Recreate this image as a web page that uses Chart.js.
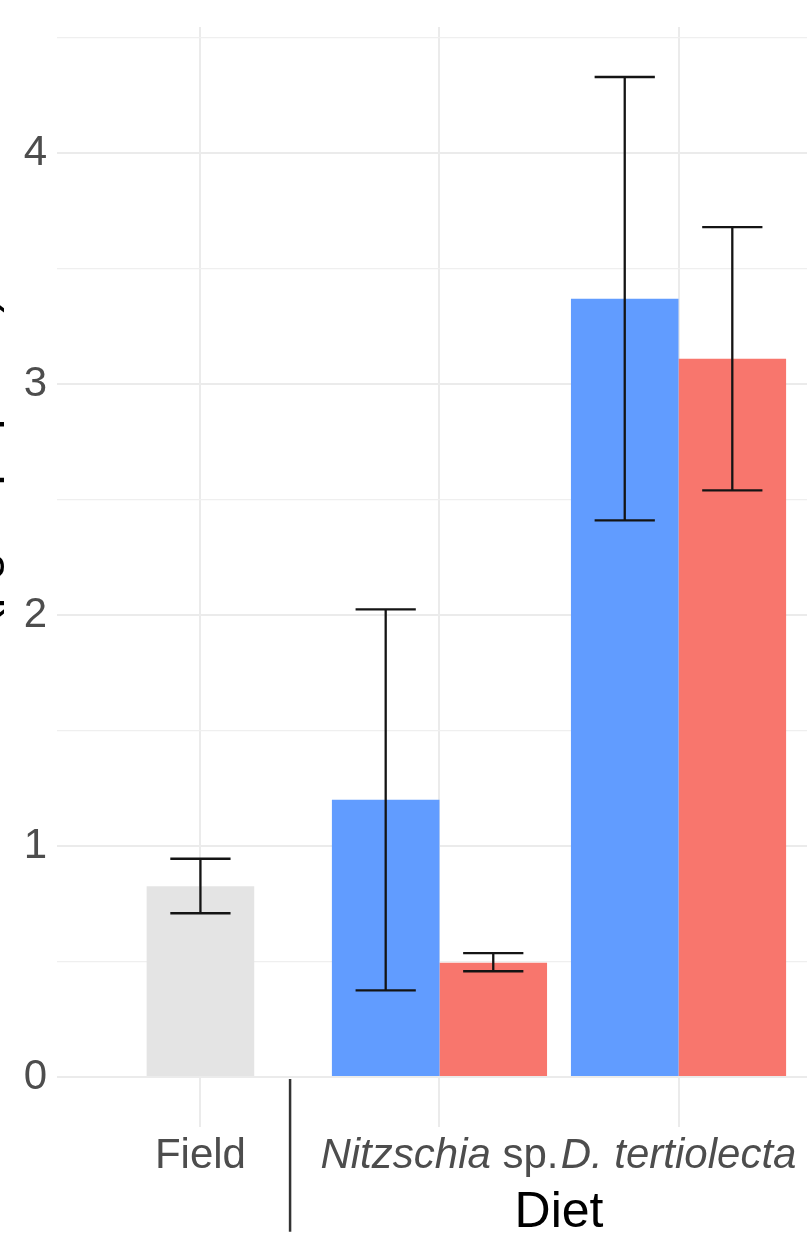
<!DOCTYPE html>
<html>
<head>
<meta charset="utf-8">
<script src="https://cdn.jsdelivr.net/npm/chart.js@4/dist/chart.umd.min.js"></script>
<style>
  html, body { margin: 0; padding: 0; overflow: hidden; background: #ffffff; width: 807px; height: 1238px; }
  #wrap { position: absolute; left: -50px; top: 0; }
</style>
</head>
<body>
<div id="wrap"><canvas id="c" width="1111" height="1238"></canvas></div>
<script>
// Diet categories and the words set in italics (taxon names)
const categories = ['Field', 'Nitzschia sp.', 'D. tertiolecta'];
const italicTerms = ['Nitzschia', 'D. tertiolecta'];

// Field-caught animals (single bar)
const fieldMean = [0.826, null, null];
const fieldLow  = [0.709, null, null];
const fieldHigh = [0.945, null, null];

// Blue series
const blueMean = [null, 1.20, 3.37];
const blueLow  = [null, 0.375, 2.41];
const blueHigh = [null, 2.025, 4.33];

// Red series
const redMean = [null, 0.495, 3.11];
const redLow  = [null, 0.458, 2.54];
const redHigh = [null, 0.536, 3.68];

// Y gridline values (labels only on whole numbers)
const yTicks = [0, 0.5, 1, 1.5, 2, 2.5, 3, 3.5, 4, 4.5];

const yTitle = 'Total TAG (µg copepod⁻¹)';
const xTitle = 'Diet';

// Divider between field and cultured diets, in category-index units
const dividerAt = 0.375;
const dividerDepth = -0.67;

// ---------------------------------------------------------------
const FONT = "'Liberation Sans', Arial, Helvetica, sans-serif";
Chart.defaults.font.family = FONT;

const allHigh = [...fieldHigh, ...blueHigh, ...redHigh].filter(v => v != null);
const yPad = 0.05 * Math.max(...allHigh);
const yMin = -yPad;
const yMax = Math.max(...allHigh) + yPad;

const capRatio = 0.56;

const errorBars = {
  id: 'errorBars',
  afterDatasetsDraw(chart) {
    const { ctx } = chart;
    const y = chart.scales.y;
    chart.data.datasets.forEach((ds, di) => {
      const meta = chart.getDatasetMeta(di);
      meta.data.forEach((bar, i) => {
        const lo = ds.errLow[i], hi = ds.errHigh[i];
        if (lo == null || hi == null || ds.data[i] == null) return;
        const x = bar.x;
        const half = bar.width * capRatio / 2;
        const yl = y.getPixelForValue(lo);
        const yh = y.getPixelForValue(hi);
        ctx.save();
        ctx.strokeStyle = '#141414';
        ctx.lineWidth = 2.3;
        ctx.beginPath();
        ctx.moveTo(x, yl); ctx.lineTo(x, yh);
        ctx.moveTo(x - half, yl); ctx.lineTo(x + half, yl);
        ctx.moveTo(x - half, yh); ctx.lineTo(x + half, yh);
        ctx.stroke();
        ctx.restore();
      });
    });
  }
};

function splitLabel(text) {
  const parts = [];
  let rest = text;
  while (rest.length) {
    let hit = null, at = Infinity;
    for (const term of italicTerms) {
      const i = rest.indexOf(term);
      if (i >= 0 && i < at) { at = i; hit = term; }
    }
    if (!hit) { parts.push({ text: rest, italic: false }); break; }
    if (at > 0) parts.push({ text: rest.slice(0, at), italic: false });
    parts.push({ text: hit, italic: true });
    rest = rest.slice(at + hit.length);
  }
  return parts;
}

const labelSize = 42;
const labelBaselineGap = 41;

const axisDecor = {
  id: 'axisDecor',
  afterDraw(chart) {
    const { ctx, chartArea } = chart;
    const x = chart.scales.x;
    const y = chart.scales.y;
    ctx.save();
    // category labels with italic taxon names
    ctx.fillStyle = '#4d4d4d';
    ctx.textBaseline = 'alphabetic';
    ctx.textAlign = 'left';
    const baseY = chartArea.bottom + labelBaselineGap;
    chart.data.labels.forEach((lab, i) => {
      const parts = splitLabel(lab);
      let total = 0;
      parts.forEach(p => {
        ctx.font = (p.italic ? 'italic ' : '') + labelSize + 'px ' + FONT;
        p.w = ctx.measureText(p.text).width;
        total += p.w;
      });
      let cx = x.getPixelForTick(i) - total / 2;
      parts.forEach(p => {
        ctx.font = (p.italic ? 'italic ' : '') + labelSize + 'px ' + FONT;
        ctx.fillText(p.text, cx, baseY);
        cx += p.w;
      });
    });
    // divider below the axis
    const p0 = x.getPixelForValue(0), p1 = x.getPixelForValue(1);
    const dx = p0 + dividerAt * (p1 - p0);
    ctx.strokeStyle = '#333333';
    ctx.lineWidth = 2.5;
    ctx.beginPath();
    ctx.moveTo(dx, y.getPixelForValue(0) + 2);
    ctx.lineTo(dx, y.getPixelForValue(dividerDepth));
    ctx.stroke();
    ctx.restore();
  }
};

new Chart(document.getElementById('c'), {
  type: 'bar',
  data: {
    labels: categories,
    datasets: [
      { label: 'Field', data: fieldMean, errLow: fieldLow, errHigh: fieldHigh,
        backgroundColor: '#e4e4e4', categoryPercentage: 0.45, barPercentage: 1, skipNull: true },
      { label: 'Blue', data: blueMean, errLow: blueLow, errHigh: blueHigh,
        backgroundColor: '#619cff', categoryPercentage: 0.9, barPercentage: 1, skipNull: true },
      { label: 'Red', data: redMean, errLow: redLow, errHigh: redHigh,
        backgroundColor: '#f8766d', categoryPercentage: 0.9, barPercentage: 1, skipNull: true }
    ]
  },
  options: {
    responsive: false,
    animation: false,
    layout: { padding: { top: 27, right: 0, bottom: 0, left: 0 } },
    plugins: { legend: { display: false }, tooltip: { enabled: false } },
    scales: {
      x: {
        type: 'category',
        offset: true,
        afterBuildTicks(scale) {
          // panel spans index -0.6 .. 3.6
          scale._startValue = -0.6;
          scale._valueRange = 4.2;
        },
        afterFit(scale) { scale.height = 111; scale.paddingLeft = 0; scale.paddingRight = 0; },
        grid: { offset: false, color: '#ebebeb', lineWidth: 2, drawTicks: false },
        border: { display: false },
        ticks: { display: false },
        title: {
          display: true, text: xTitle, color: '#000000',
          font: { size: 50, lineHeight: 1 }, padding: { top: 0, bottom: 0 }
        }
      },
      y: {
        type: 'linear',
        min: yMin,
        max: yMax,
        afterBuildTicks(scale) { scale.ticks = yTicks.map(v => ({ value: v })); },
        afterFit(scale) { scale.width = 107; scale.paddingTop = 0; scale.paddingBottom = 0; },
        grid: {
          drawTicks: false,
          color: ctx => Number.isInteger(ctx.tick.value) ? '#ebebeb' : '#efefef',
          lineWidth: ctx => Number.isInteger(ctx.tick.value) ? 2 : 1.3
        },
        border: { display: false },
        ticks: {
          padding: 10,
          color: '#4d4d4d',
          font: { size: 42 },
          callback: v => Number.isInteger(v) ? String(v) : ''
        },
        title: {
          display: true, text: yTitle, color: '#000000',
          font: { size: 50 }, padding: { top: 0, bottom: 0 }
        }
      }
    }
  },
  plugins: [errorBars, axisDecor]
});
</script>
</body>
</html>
